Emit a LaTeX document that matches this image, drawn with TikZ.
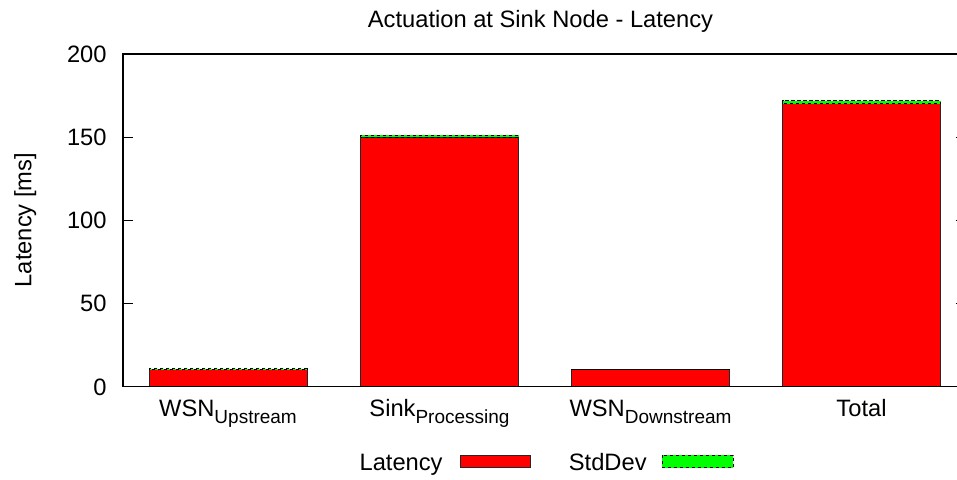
\documentclass[tikz,border=0pt]{standalone}
\usepackage{fontspec}
\setmainfont{Liberation Sans}
% lowered, smaller text for the category subscripts
\newcommand\sublab[1]{\raisebox{-3.6pt}{\fontsize{9.5}{11}\selectfont #1}}
\begin{document}
\begin{tikzpicture}[x=0.5pt,y=-0.5pt,
  lab/.style={font=\fontsize{11.85}{14}\selectfont, inner sep=0pt},
  axisline/.style={line width=0.75pt, line cap=rect},
  tickline/.style={line width=0.6pt},
  latbar/.style={fill=red, draw=black!85, line width=0.5pt},
  devbar/.style={fill=green, draw=black, dash pattern=on 1.6pt off 1.4pt, line width=0.5pt},
]
\useasboundingbox (0,0) rectangle (957,479);

% value -> vertical position: 0 at 386.5, 200 at 54
\def\ya{386.5}
\def\ys{1.6625}

% bars: centre / latency / standard deviation
\foreach \c/\v/\e in {228/10/0.7, 439.5/150/1.2, 650.5/10/0.3, 861.5/170/1.9}{
  \draw[latbar] ({\c-79},{\ya}) rectangle ({\c+79},{\ya-\ys*\v});
  \draw[devbar] ({\c-79},{\ya-\ys*\v}) rectangle ({\c+79},{\ya-\ys*(\v+\e)});
}

% frame
\draw[axisline] (957,54) -- (123,54) -- (123,386.5) -- (957,386.5);

% y ticks and labels
\foreach \t in {0,50,100,150,200}{
  \draw[tickline] (123,{\ya-\ys*\t}) -- (133,{\ya-\ys*\t});
  \node[lab, anchor=base east] (yt\t) at (107,{\ya-\ys*\t+8.5}) {\t};
}
% mirrored ticks of the right-hand axis
\foreach \t in {50,100,150}{
  \draw[tickline] (955.5,{\ya-\ys*\t}) -- (957,{\ya-\ys*\t});
}

% category labels
\node[lab, anchor=base] (c1) at (228,416) {WSN\sublab{Upstream}};
\node[lab, anchor=base] (c2) at (439.5,416) {Sink\sublab{Processing}};
\node[lab, anchor=base] (c3) at (650.5,416) {WSN\sublab{Downstream}};
\node[lab, anchor=base] (c4) at (861.5,416) {Total};

% title and axis label
\node[lab, anchor=base] (title) at (540.5,27) {Actuation at Sink Node - Latency};
\node[lab, anchor=base, rotate=90] (ylab) at (31.5,220) {Latency [ms]};

% legend
\node[lab, anchor=base east] (leg1) at (443,470) {Latency};
\draw[latbar] (460,455) rectangle (530.5,467.5);
\node[lab, anchor=base east] (leg2) at (647,470) {StdDev};
\draw[devbar] (662,455) rectangle (733,467.5);
\end{tikzpicture}
\end{document}
